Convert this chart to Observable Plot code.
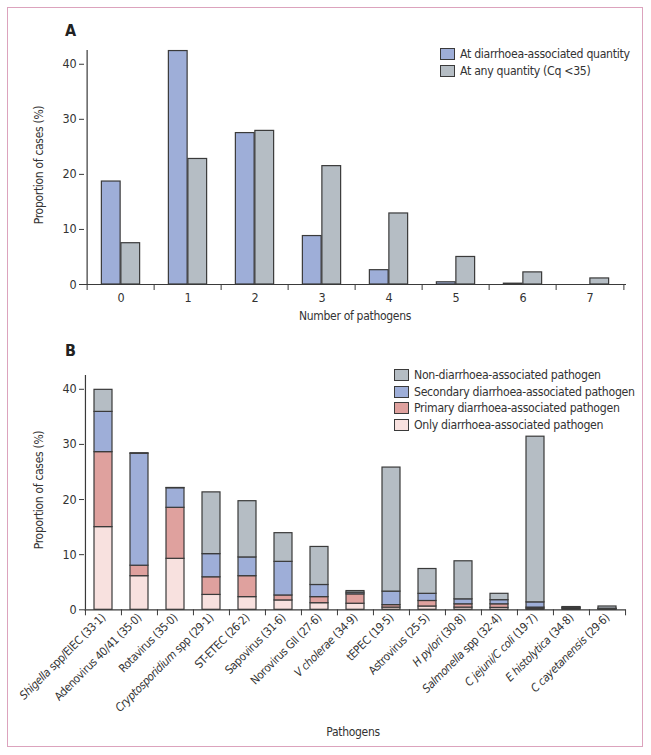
<!DOCTYPE html>
<html>
<head>
<meta charset="utf-8">
<script src="https://cdn.jsdelivr.net/npm/d3@7"></script>
<script src="https://cdn.jsdelivr.net/npm/@observablehq/plot@0.6"></script>
<style>
  html, body { margin: 0; padding: 0; background: #fff; }
  #page { position: relative; width: 651px; height: 755px; background: #fff;
          font-family: "DejaVu Sans Condensed", "Liberation Sans Narrow", "Arial Narrow", sans-serif; color: #333; }
  .frame { position: absolute; left: 7px; top: 7px; width: 636px; height: 740px; box-sizing: border-box; border: 1px solid #dca3bd; }
  .panel { position: absolute; left: 0; }
  .plabel { position: absolute; font-weight: bold; font-size: 16px; color: #222; }
  .legend { position: absolute; font-size: 12.2px; letter-spacing: -0.3px; line-height: 16.5px; color: #333; }
  .legend .row { display: flex; align-items: center; white-space: nowrap; }
  .legend .sw { width: 13px; height: 10px; border: 1.2px solid #3a3a3a; margin-right: 5px; flex: none; }
  .ylab { position: absolute; font-size: 12px; letter-spacing: -0.3px; transform: rotate(-90deg); transform-origin: center; white-space: nowrap; text-align: center; }
  .xlab { position: absolute; font-size: 12px; letter-spacing: -0.3px; white-space: nowrap; transform: translateX(-50%); }
</style>
</head>
<body>
<div id="page">
  <div class="frame"></div>
  <div id="chartA" class="panel" style="top:0"></div>
  <div id="chartB" class="panel" style="top:330px"></div>
</div>
<script>
// ---------- Panel A data ----------
const pathogenCounts = ["0", "1", "2", "3", "4", "5", "6", "7"];
const atDiarrhoeaQuantity = [18.7, 42.4, 27.5, 8.8, 2.6, 0.4, 0.15, 0];
const atAnyQuantity = [7.5, 22.8, 27.9, 21.5, 12.9, 5.0, 2.2, 1.1];
const seriesA = ["At diarrhoea-associated quantity", "At any quantity (Cq <35)"];
const coloursA = ["#9eaed8", "#b5bdc4"];

// ---------- Panel B data ----------
const pathogens = [
  "Shigella spp/EIEC (33·1)", "Adenovirus 40/41 (35·0)", "Rotavirus (35·0)",
  "Cryptosporidium spp (29·1)", "ST-ETEC (26·2)", "Sapovirus (31·6)",
  "Norovirus GII (27·6)", "V cholerae (34·9)", "tEPEC (19·5)", "Astrovirus (25·5)",
  "H pylori (30·8)", "Salmonella spp (32·4)", "C jejuni/C coli (19·7)",
  "E histolytica (34·8)", "C cayetanensis (29·6)"
];
const italicParts = ["Shigella", "Cryptosporidium", "V cholerae", "H pylori", "Salmonella",
  "C jejuni/C coli", "E histolytica", "C cayetanensis"];
const onlyDA      = [15.0, 6.1, 9.25, 2.7, 2.3, 1.7, 1.2, 1.1, 0.4, 0.6, 0.4, 0.35, 0.2, 0.1, 0.05];
const primaryDA   = [13.6, 1.9, 9.25, 3.2, 3.8, 0.9, 1.1, 1.7, 0.45, 1.0, 0.6, 0.65, 0.2, 0.2, 0.1];
const secondaryDA = [7.3, 20.3, 3.55, 4.2, 3.4, 6.1, 2.2, 0.3, 2.45, 1.3, 0.9, 0.75, 0.95, 0.1, 0.05];
const nonDA       = [4.0, 0.1, 0.05, 11.2, 10.2, 5.2, 6.9, 0.3, 22.5, 4.5, 6.9, 1.15, 30.05, 0.1, 0.4];
const seriesB = ["Only diarrhoea-associated pathogen", "Primary diarrhoea-associated pathogen",
  "Secondary diarrhoea-associated pathogen", "Non-diarrhoea-associated pathogen"];
const coloursB = ["#f8e1df", "#dfa19e", "#9eaed8", "#b5bdc4"];

const yTicks = [0, 10, 20, 30, 40];
const FONT = '"DejaVu Sans Condensed", "Liberation Sans Narrow", "Arial Narrow", sans-serif';
const STROKE = "#3a3a3a";

// ---------- Panel A ----------
const W = 651;
const A = {height: 330, mt: 50, mb: 46, ml: 84, mr: 25};
const bwA = (W - A.ml - A.mr) / pathogenCounts.length;
const barW = 19.5;
const dataA = [];
pathogenCounts.forEach((c, i) => {
  dataA.push({count: c, series: seriesA[0], value: atDiarrhoeaQuantity[i]});
  dataA.push({count: c, series: seriesA[1], value: atAnyQuantity[i]});
});
const chartA = Plot.plot({
  width: W, height: A.height, marginTop: A.mt, marginBottom: A.mb, marginLeft: A.ml, marginRight: A.mr,
  style: {fontFamily: FONT, fontSize: "12.5px", letterSpacing: "-0.2px", color: "#333", background: "transparent", overflow: "visible"},
  x: {domain: pathogenCounts, padding: 0, axis: null},
  y: {domain: [0, 42.5], axis: null},
  color: {domain: seriesA, range: coloursA},
  marks: [
    Plot.barY(dataA.filter(d => d.series === seriesA[0]), {x: "count", y: "value", fill: "series",
      stroke: STROKE, strokeWidth: 1.2, insetLeft: bwA / 2 - barW, insetRight: bwA / 2}),
    Plot.barY(dataA.filter(d => d.series === seriesA[1]), {x: "count", y: "value", fill: "series",
      stroke: STROKE, strokeWidth: 1.2, insetLeft: bwA / 2, insetRight: bwA / 2 - barW}),
    Plot.axisY({ticks: yTicks, tickSize: 5, tickPadding: 3, label: null, stroke: STROKE}),
    Plot.axisX({tickSize: 0, tickPadding: 9, label: null}),
    Plot.axisX({tickSize: 6, tickFormat: () => "", label: null, dx: -bwA / 2, stroke: STROKE}),
    Plot.axisX([pathogenCounts[pathogenCounts.length - 1]], {tickSize: 6, tickFormat: () => "", label: null, dx: bwA / 2, stroke: STROKE}),
    Plot.ruleY([0], {stroke: STROKE, strokeWidth: 1.2}),
    Plot.ruleX([pathogenCounts[0]], {dx: -bwA / 2, stroke: STROKE, strokeWidth: 1.2})
  ]
});
document.getElementById("chartA").appendChild(chartA);

// ---------- Panel B ----------
const B = {height: 425, mt: 45, mb: 145.7, ml: 84, mr: 25.5};
const bwB = (W - B.ml - B.mr) / pathogens.length;
const dataB = [];
const valsB = [onlyDA, primaryDA, secondaryDA, nonDA];
pathogens.forEach((p, i) => {
  seriesB.forEach((s, j) => dataB.push({pathogen: p, series: s, value: valsB[j][i]}));
});
const chartB = Plot.plot({
  width: W, height: B.height, marginTop: B.mt, marginBottom: B.mb, marginLeft: B.ml, marginRight: B.mr,
  style: {fontFamily: FONT, fontSize: "12.5px", letterSpacing: "-0.2px", color: "#333", background: "transparent", overflow: "visible"},
  x: {domain: pathogens, padding: 0, axis: null},
  y: {domain: [0, 42.5], axis: null},
  color: {domain: seriesB, range: coloursB},
  marks: [
    Plot.barY(dataB, Plot.stackY({order: seriesB}, {x: "pathogen", y: "value", z: "series", fill: "series",
      stroke: STROKE, strokeWidth: 1.2, insetLeft: 9, insetRight: 9})),
    Plot.axisY({ticks: yTicks, tickSize: 5, tickPadding: 3, label: null, stroke: STROKE}),
    Plot.axisX({tickSize: 0, tickPadding: 6, tickRotate: -45, label: null, fontSize: 11.5}),
    Plot.axisX({tickSize: 6, tickFormat: () => "", label: null, dx: -bwB / 2, stroke: STROKE}),
    Plot.axisX([pathogens[pathogens.length - 1]], {tickSize: 6, tickFormat: () => "", label: null, dx: bwB / 2, stroke: STROKE}),
    Plot.ruleY([0], {stroke: STROKE, strokeWidth: 1.2}),
    Plot.ruleX([pathogens[0]], {dx: -bwB / 2, stroke: STROKE, strokeWidth: 1.2})
  ]
});
document.getElementById("chartB").appendChild(chartB);

// italicise genus/species parts of tick labels
chartB.querySelectorAll("text").forEach(t => {
  const s = t.textContent;
  if (!pathogens.includes(s)) return;
  t.setAttribute("letter-spacing", "-0.35");
  const it = italicParts.find(p => s.startsWith(p));
  if (!it) return;
  const rest = s.slice(it.length);
  t.textContent = "";
  const ns = "http://www.w3.org/2000/svg";
  const a = document.createElementNS(ns, "tspan");
  a.setAttribute("font-style", "italic");
  a.textContent = it;
  const b = document.createElementNS(ns, "tspan");
  b.textContent = rest;
  t.appendChild(a); t.appendChild(b);
});

// ---------- HTML labels and legends ----------
const page = document.getElementById("page");
function add(html, cls, style) {
  const d = document.createElement("div");
  d.className = cls; d.innerHTML = html; Object.assign(d.style, style);
  page.appendChild(d); return d;
}
add("A", "plabel", {left: "65px", top: "21px"});
add("B", "plabel", {left: "65px", top: "341px"});
add("Proportion of cases (%)", "ylab", {left: "-21px", top: "158px", width: "120px"});
add("Proportion of cases (%)", "ylab", {left: "-21px", top: "483px", width: "120px"});
add("Number of pathogens", "xlab", {left: "355px", top: "309px"});
add("Pathogens", "xlab", {left: "353px", top: "725px"});

function legend(series, colours, left, top) {
  const html = series.map((s, i) =>
    `<div class="row"><span class="sw" style="background:${colours[i]}"></span><span>${s}</span></div>`).join("");
  add(html, "legend", {left: left + "px", top: top + "px"});
}
legend(seriesA, coloursA, 440, 46);
legend(seriesB.slice().reverse(), coloursB.slice().reverse(), 394, 367);
</script>
</body>
</html>
